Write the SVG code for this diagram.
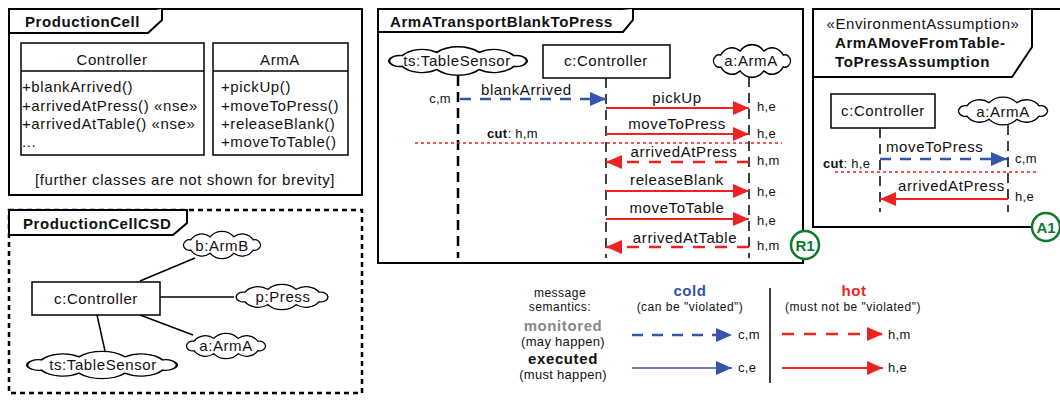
<svg xmlns="http://www.w3.org/2000/svg" width="1060" height="400" viewBox="0 0 1060 400">
<style>
text{font-family:"Liberation Sans",Arial,sans-serif;fill:#111}
.t{font-size:15px;letter-spacing:0.6px}
.tc{font-size:15px;letter-spacing:0.6px;text-anchor:middle}
.b{font-size:15px;font-weight:bold;letter-spacing:0.6px}
.s{font-size:13px;letter-spacing:0.3px}
.lg{font-size:12px;letter-spacing:0.5px;text-anchor:middle}
.frame{fill:#fff;stroke:#000;stroke-width:2}
.tab{fill:#fff;stroke:#000;stroke-width:2;stroke-linejoin:miter}
.box{fill:#fff;stroke:#000;stroke-width:1.5}
.cloud{fill:#fff;stroke:#000;stroke-width:1.5;vector-effect:non-scaling-stroke}
.ll{fill:none;stroke:#000;stroke-width:1.5;stroke-dasharray:10 6}
.llt{fill:none;stroke:#000;stroke-width:2.5;stroke-dasharray:10 6}
.conn{stroke:#000;stroke-width:1.5;fill:none}
.rs{stroke:#ee2222;stroke-width:2;fill:none;marker-end:url(#ar)}
.rd{stroke:#ee2222;stroke-width:2.5;fill:none;stroke-dasharray:12 10;marker-end:url(#ar)}
.bs{stroke:#3355aa;stroke-width:1.5;fill:none;marker-end:url(#ab)}
.bd{stroke:#3355aa;stroke-width:2.5;fill:none;stroke-dasharray:11 9;marker-end:url(#ab)}
.cut{stroke:#ee2222;stroke-width:1.5;stroke-dasharray:3 3;fill:none}
.badge{fill:#fff;stroke:#0c7a2c;stroke-width:2.5}
.bt{font-size:15px;font-weight:bold;fill:#0c7a2c;text-anchor:middle}
</style>
<defs>
<marker id="ar" markerUnits="userSpaceOnUse" markerWidth="17" markerHeight="14" refX="16" refY="7" orient="auto"><path d="M0,0 L16,7 L0,14 z" fill="#ee2222"/></marker>
<marker id="ab" markerUnits="userSpaceOnUse" markerWidth="17" markerHeight="14" refX="16" refY="7" orient="auto"><path d="M0,0 L16,7 L0,14 z" fill="#3355aa"/></marker>
<path id="cl" d="M46,0 A7,7 0 0 1 37.2,5.88 A16,16 0 0 1 14.2,9.51 A19,19 0 0 1 -14.2,9.51 A16,16 0 0 1 -37.2,5.88 A7,7 0 0 1 -46,0 A7,7 0 0 1 -37.2,-5.88 A16,16 0 0 1 -14.2,-9.51 A19,19 0 0 1 14.2,-9.51 A16,16 0 0 1 37.2,-5.88 A7,7 0 0 1 46,0 Z"/>
</defs>

<!-- ProductionCell class diagram -->
<g id="ProductionCell">
<rect class="frame" x="9" y="9" width="353" height="186"/>
<path class="tab" d="M9,33 L148,33 L162,20 L162,9"/>
<text class="b" x="25" y="27">ProductionCell</text>
</g>
<g id="ClassController">
<rect class="box" x="21" y="43" width="183" height="112"/>
<line class="box" x1="21" y1="71" x2="204" y2="71"/>
<text class="tc" x="112" y="65">Controller</text>
<text class="t" x="22" y="92">+blankArrived()</text>
<text class="t" x="22" y="110.5">+arrivedAtPress() «nse»</text>
<text class="t" x="22" y="129">+arrivedAtTable() «nse»</text>
<text class="t" x="22" y="147">...</text>
</g>
<g id="ClassArmA">
<rect class="box" x="213" y="43" width="135" height="112"/>
<line class="box" x1="213" y1="71" x2="348" y2="71"/>
<text class="tc" x="280" y="65">ArmA</text>
<text class="t" x="221" y="92">+pickUp()</text>
<text class="t" x="221" y="110.5">+moveToPress()</text>
<text class="t" x="221" y="129">+releaseBlank()</text>
<text class="t" x="221" y="147">+moveToTable()</text>
</g>
<text class="t" x="35" y="185">[further classes are not shown for brevity]</text>

<!-- ProductionCellCSD -->
<g id="ProductionCellCSD">
<rect x="9" y="210" width="353" height="183" fill="#fff" stroke="#000" stroke-width="2.5" stroke-dasharray="5 4"/>
<path class="tab" d="M9,235 L173,235 L187,223 L187,210 L9,210 Z"/>
<text class="b" x="23" y="229">ProductionCellCSD</text>
</g>
<g id="csd-connectors">
<line class="conn" x1="140" y1="281" x2="195" y2="258"/>
<line class="conn" x1="160" y1="297" x2="234" y2="297"/>
<line class="conn" x1="140" y1="315" x2="193" y2="335"/>
<line class="conn" x1="97" y1="315" x2="105" y2="351"/>
</g>
<g id="csd-c-Controller">
<rect class="box" x="32" y="282" width="128" height="33"/>
<text class="tc" x="96" y="304">c:Controller</text>
</g>
<g id="csd-b-ArmB">
<use href="#cl" class="cloud" transform="translate(222,245) scale(0.84,0.86)"/>
<text class="tc" x="222" y="251">b:ArmB</text>
</g>
<g id="csd-p-Press">
<use href="#cl" class="cloud" transform="translate(282,297) scale(1,0.8)"/>
<text class="tc" x="283" y="302">p:Press</text>
</g>
<g id="csd-a-ArmA">
<use href="#cl" class="cloud" transform="translate(226,346) scale(0.86,0.8)"/>
<text class="tc" x="226" y="351">a:ArmA</text>
</g>
<g id="csd-ts-TableSensor">
<use href="#cl" class="cloud" transform="translate(102,365) scale(1.63,0.86)"/>
<text class="tc" x="103" y="370">ts:TableSensor</text>
</g>

<!-- ArmATransportBlankToPress -->
<g id="ArmATransportBlankToPress">
<rect class="frame" x="378" y="9" width="425" height="254"/>
<path class="tab" d="M378,32 L623,32 L633,20 L633,9"/>
<text class="b" x="390" y="27">ArmATransportBlankToPress</text>
</g>
<g id="seq-lifelines">
<line class="llt" x1="458" y1="76" x2="458" y2="258"/>
<line class="ll" x1="606" y1="78" x2="606" y2="258"/>
<line class="ll" x1="749" y1="77" x2="749" y2="258"/>
</g>
<g id="seq-ts-TableSensor">
<use href="#cl" class="cloud" transform="translate(458,61) scale(1.5,0.9)"/>
<text class="tc" x="457" y="66">ts:TableSensor</text>
</g>
<g id="seq-c-Controller">
<rect class="box" x="543" y="45" width="127" height="33"/>
<text class="tc" x="606" y="66">c:Controller</text>
</g>
<g id="seq-a-ArmA">
<use href="#cl" class="cloud" transform="translate(752,61) scale(0.84,1.03)"/>
<text class="tc" x="751" y="66">a:ArmA</text>
</g>
<g id="seq-messages">
<line class="bd" x1="460" y1="99" x2="606" y2="99"/>
<line class="rs" x1="606" y1="108" x2="749" y2="108"/>
<line class="rs" x1="606" y1="134" x2="749" y2="134"/>
<line class="cut" x1="415" y1="143" x2="782" y2="143"/>
<line class="rd" x1="749" y1="162" x2="606" y2="162"/>
<line class="rs" x1="606" y1="191" x2="749" y2="191"/>
<line class="rs" x1="606" y1="219" x2="749" y2="219"/>
<line class="rd" x1="749" y1="247" x2="606" y2="247"/>
</g>
<g id="seq-labels">
<text class="t" x="481" y="95">blankArrived</text>
<text class="s" x="451" y="103" text-anchor="end">c,m</text>
<text class="tc" x="677" y="103">pickUp</text>
<text class="tc" x="677" y="129">moveToPress</text>
<text class="tc" x="684" y="157">arrivedAtPress</text>
<text class="tc" x="677" y="185">releaseBlank</text>
<text class="tc" x="677" y="213">moveToTable</text>
<text class="tc" x="685" y="243">arrivedAtTable</text>
<text class="s" x="757" y="111">h,e</text>
<text class="s" x="757" y="138">h,e</text>
<text class="s" x="757" y="165">h,m</text>
<text class="s" x="757" y="196">h,e</text>
<text class="s" x="757" y="225">h,e</text>
<text class="s" x="757" y="250">h,m</text>
<text class="s" x="487" y="138"><tspan font-weight="bold">cut</tspan>: h,m</text>
</g>

<!-- EnvironmentAssumption -->
<g id="ArmAMoveFromTableToPressAssumption">
<rect class="frame" x="813" y="9" width="260" height="218"/>
<path class="tab" d="M813,77 L1012,77 L1032,47 L1032,9"/>
<text class="tc" x="923" y="29">«EnvironmentAssumption»</text>
<text class="b" x="835" y="48">ArmAMoveFromTable-</text>
<text class="b" x="835" y="67">ToPressAssumption</text>
</g>
<g id="env-lifelines">
<line class="ll" x1="880" y1="128" x2="880" y2="212"/>
<line class="ll" x1="1008" y1="125" x2="1008" y2="212"/>
</g>
<g id="env-c-Controller">
<rect class="box" x="831" y="94" width="104" height="34"/>
<text class="tc" x="883" y="116">c:Controller</text>
</g>
<g id="env-a-ArmA">
<use href="#cl" class="cloud" transform="translate(1003,111) scale(0.97,0.875)"/>
<text class="tc" x="1003" y="117">a:ArmA</text>
</g>
<g id="env-messages">
<line class="bd" x1="880" y1="159" x2="1007" y2="159"/>
<line class="cut" x1="835" y1="172" x2="1037" y2="172"/>
<line class="rs" x1="1008" y1="199" x2="880" y2="199"/>
</g>
<g id="env-labels">
<text class="t" x="886" y="152">moveToPress</text>
<text class="s" x="1015" y="163">c,m</text>
<text class="s" x="823" y="168"><tspan font-weight="bold">cut</tspan>: h,e</text>
<text class="t" x="898" y="191">arrivedAtPress</text>
<text class="s" x="1015" y="201">h,e</text>
</g>

<!-- Badges -->
<g id="badge-R1">
<circle class="badge" cx="805" cy="245" r="14"/>
<text class="bt" x="805" y="250.5">R1</text>
</g>
<g id="badge-A1">
<circle class="badge" cx="1046" cy="227" r="14"/>
<text class="bt" x="1046" y="232.5">A1</text>
</g>

<!-- Legend -->
<g id="legend">
<text class="lg" x="560" y="297">message</text>
<text class="lg" x="560" y="311">semantics:</text>
<text class="b" x="690" y="296" text-anchor="middle" style="fill:#3355aa">cold</text>
<text class="lg" x="690" y="311">(can be "violated")</text>
<text class="b" x="854" y="295.5" text-anchor="middle" style="fill:#ee2222">hot</text>
<text class="lg" x="853" y="311">(must not be "violated")</text>
<text class="b" x="563" y="331" text-anchor="middle" style="fill:#888">monitored</text>
<text class="s" x="563" y="346" text-anchor="middle">(may happen)</text>
<text class="b" x="563" y="364" text-anchor="middle">executed</text>
<text class="s" x="563" y="379" text-anchor="middle">(must happen)</text>
<line x1="770" y1="288" x2="770" y2="383" stroke="#000" stroke-width="1.5"/>
<line class="bd" x1="632" y1="335" x2="732" y2="335" stroke-dasharray="12 11"/>
<line class="bs" x1="632" y1="368" x2="732" y2="368"/>
<line class="rd" x1="782" y1="334" x2="883" y2="334" stroke-dasharray="12 11"/>
<line class="rs" x1="782" y1="368" x2="883" y2="368" stroke-width="1.5"/>
<text class="s" x="738" y="339">c,m</text>
<text class="s" x="738" y="372">c,e</text>
<text class="s" x="888" y="339">h,m</text>
<text class="s" x="888" y="372">h,e</text>
</g>
</svg>
